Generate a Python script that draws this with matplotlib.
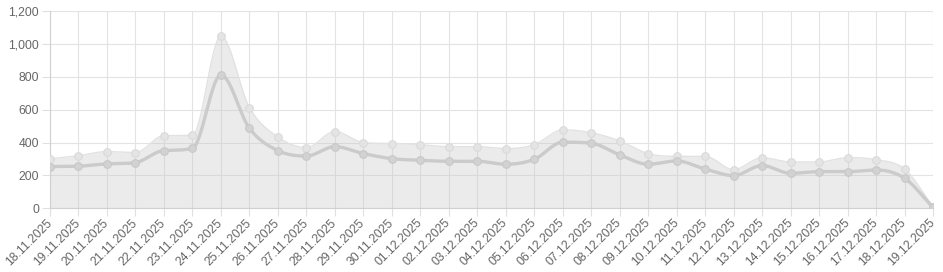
import numpy as np
import matplotlib
matplotlib.use("Agg")
import matplotlib.pyplot as plt
from matplotlib.ticker import FuncFormatter
from matplotlib.transforms import ScaledTranslation

dates = ["18.11.2025", "19.11.2025", "20.11.2025", "21.11.2025", "22.11.2025",
         "23.11.2025", "24.11.2025", "25.11.2025", "26.11.2025", "27.11.2025",
         "28.11.2025", "29.11.2025", "30.11.2025", "01.12.2025", "02.12.2025",
         "03.12.2025", "04.12.2025", "05.12.2025", "06.12.2025", "07.12.2025",
         "08.12.2025", "09.12.2025", "10.12.2025", "11.12.2025", "12.12.2025",
         "13.12.2025", "14.12.2025", "15.12.2025", "16.12.2025", "17.12.2025",
         "18.12.2025", "19.12.2025"]

upper = [300, 320, 345, 339, 442, 444, 1047, 613, 434, 369,
         467, 400, 394, 387, 375, 375, 363, 387, 477, 460,
         410, 333, 316, 316, 235, 308, 282, 282, 308, 296,
         239, 10]

lower = [254, 256, 270, 278, 351, 365, 811, 487, 351, 318,
         375, 333, 302, 292, 286, 286, 268, 298, 402, 396,
         325, 268, 288, 239, 199, 260, 213, 223, 223, 233,
         183, 6]

y_ticks = [0, 200, 400, 600, 800, 1000, 1200]


def monotone(xs, ys, per=30):
    xs = np.asarray(xs, float)
    ys = np.asarray(ys, float)
    n = len(xs)
    dk = np.diff(ys) / np.diff(xs)
    m = np.zeros(n)
    m[0] = dk[0]
    m[-1] = dk[-1]
    for i in range(1, n - 1):
        if dk[i - 1] == 0 or dk[i] == 0 or np.sign(dk[i - 1]) != np.sign(dk[i]):
            m[i] = 0
        else:
            m[i] = (dk[i - 1] + dk[i]) / 2
    for i in range(n - 1):
        if dk[i] == 0:
            m[i] = 0
            m[i + 1] = 0
            continue
        a = m[i] / dk[i]
        b = m[i + 1] / dk[i]
        s = a * a + b * b
        if s > 9:
            t = 3 / np.sqrt(s)
            m[i] = a * t * dk[i]
            m[i + 1] = b * t * dk[i]
    X, Y = [], []
    for i in range(n - 1):
        h = xs[i + 1] - xs[i]
        t = np.linspace(0, 1, per, endpoint=(i == n - 2))
        h00 = 2 * t**3 - 3 * t**2 + 1
        h10 = t**3 - 2 * t**2 + t
        h01 = -2 * t**3 + 3 * t**2
        h11 = t**3 - t**2
        X.append(xs[i] + t * h)
        Y.append(h00 * ys[i] + h10 * h * m[i] + h01 * ys[i + 1] + h11 * h * m[i + 1])
    return np.concatenate(X), np.concatenate(Y)


plt.rcParams['font.family'] = ['Liberation Sans', 'DejaVu Sans']

W, H = 943, 272
fig = plt.figure(figsize=(W / 100, H / 100), dpi=100)
ax = fig.add_axes([50 / W, 1 - 208.3 / H, 883 / W, 197.3 / H])

x = np.arange(len(dates))
ux, uy = monotone(x, upper)
lx, ly = monotone(x, lower)

ax.fill_between(ux, 0, uy, color=(0.78, 0.78, 0.78), alpha=0.35, linewidth=0, zorder=2)
ax.plot(ux, uy, color='#e2e2e2', lw=1.0, zorder=3)
ax.plot(x, upper, 'o', ms=5.5, mfc='#e4e4e4', mec='#dadada', mew=0.8, zorder=4)

ax.plot(lx, ly, color='#cbcbcb', lw=2.4, zorder=5, solid_capstyle='round')
ax.plot(x, lower, 'o', ms=5.5, mfc='#d2d2d2', mec='#c8c8c8', mew=0.8, zorder=6)

ax.set_xlim(0, len(dates) - 1)
ax.set_ylim(0, 1200)
ax.set_yticks(y_ticks)
ax.yaxis.set_major_formatter(FuncFormatter(lambda v, p: f"{int(v):,}"))
ax.set_xticks(x)
ax.set_xticklabels(dates, rotation=45, ha='right', va='center', rotation_mode='anchor')
shift = ScaledTranslation(5 / 100, 0, fig.dpi_scale_trans)
for lab in ax.get_xticklabels():
    lab.set_transform(lab.get_transform() + shift)

ax.grid(True, color='#e3e3e3', lw=0.8, zorder=0)
ax.set_axisbelow(True)
for s in ['top', 'right']:
    ax.spines[s].set_visible(False)
for s in ['left', 'bottom']:
    ax.spines[s].set_color('#d0d0d0')
    ax.spines[s].set_linewidth(0.8)
ax.tick_params(axis='both', direction='out', length=5.8, width=0.8, color='#e0e0e0',
               labelcolor='#666666', labelsize=8.7)
ax.tick_params(axis='x', pad=3.4)
ax.tick_params(axis='y', pad=2)

fig.savefig('out.png', dpi=100)
